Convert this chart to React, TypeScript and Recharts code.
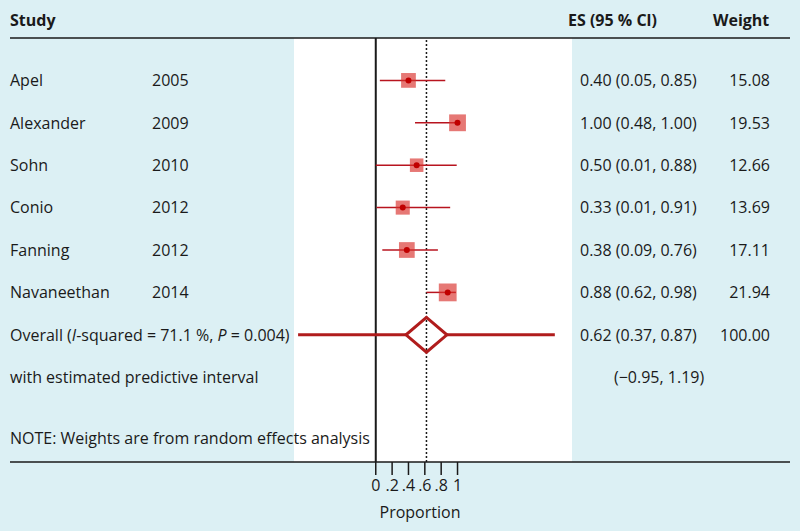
import React from 'react';
import {
  ComposedChart,
  XAxis,
  YAxis,
  Scatter,
  Line,
  ErrorBar,
  ReferenceLine,
  CartesianGrid,
} from 'recharts';

const FONT = '"Open Sans", sans-serif';
const INK = '#1a1a1a';
const BG = '#dcf0f4';
const CI_RED = '#b8141f';
const POOL_RED = '#b01c1c';

// study rows
const studies = ['Apel', 'Alexander', 'Sohn', 'Conio', 'Fanning', 'Navaneethan'];
const years = ['2005', '2009', '2010', '2012', '2012', '2014'];
const estimates = [0.4, 1.0, 0.5, 0.33, 0.38, 0.88];
const ciLower = [0.05, 0.48, 0.0, 0.01, 0.08, 0.62];
const ciUpper = [0.85, 1.0, 0.99, 0.91, 0.76, 0.98];
const esLabels = [
  '0.40 (0.05, 0.85)',
  '1.00 (0.48, 1.00)',
  '0.50 (0.01, 0.88)',
  '0.33 (0.01, 0.91)',
  '0.38 (0.09, 0.76)',
  '0.88 (0.62, 0.98)',
];
const weights = [15.08, 19.53, 12.66, 13.69, 17.11, 21.94];
const weightLabels = ['15.08', '19.53', '12.66', '13.69', '17.11', '21.94'];
const rows = [1, 2, 3, 4, 5, 6];

// pooled estimate
const overallRow = 7;
const overallEs = 0.62;
const overallCi = [0.37, 0.87];
const overallLabel = '0.62 (0.37, 0.87)';
const predictiveRow = 8;
const predictiveDrawn = [-0.95, 2.19];
const predictiveLabel = '(\u22120.95, 1.19)';
const noteRow = 9.45;

const xTicks = [0, 0.2, 0.4, 0.6, 0.8, 1];

const studyPoints = studies.map((name, i) => ({
  x: estimates[i],
  y: rows[i],
  err: [estimates[i] - ciLower[i], ciUpper[i] - estimates[i]],
  weight: weights[i],
}));

const leftSegment = [
  { x: predictiveDrawn[0], y: overallRow },
  { x: overallCi[0], y: overallRow },
];
const rightSegment = [
  { x: overallCi[1], y: overallRow },
  { x: predictiveDrawn[1], y: overallRow },
];
const halfH = 0.41;
const diamond = [
  { x: overallCi[0], y: overallRow },
  { x: overallEs, y: overallRow - halfH },
  { x: overallCi[1], y: overallRow },
  { x: overallEs, y: overallRow + halfH },
  { x: overallCi[0], y: overallRow },
  { x: overallEs, y: overallRow - halfH },
];

const labelRows = [
  ...rows.map((r, i) => ({ x: 0, y: r, kind: 'study', i })),
  { x: 0, y: overallRow, kind: 'overall', i: -1 },
  { x: 0, y: predictiveRow, kind: 'pred', i: -1 },
  { x: 0, y: noteRow, kind: 'note', i: -1 },
];

const txt = { fontFamily: FONT, fontSize: 16, fill: INK };

const StudySquare = (props: any) => {
  const { cx, cy, payload } = props;
  const side = 3.8 * Math.sqrt(payload.weight);
  return (
    <g>
      <rect
        x={cx - side / 2}
        y={cy - side / 2}
        width={side}
        height={side}
        fill="#d9302b"
        fillOpacity={0.65}
      />
      <circle cx={cx} cy={cy} r={3} fill="#c00000" />
    </g>
  );
};

const RowText = (props: any) => {
  const { cy, payload } = props;
  const { kind, i } = payload;
  if (kind === 'study') {
    return (
      <g>
        <text x={10} y={cy} dy="0.36em" {...txt}>{studies[i]}</text>
        <text x={152} y={cy} dy="0.36em" {...txt}>{years[i]}</text>
        <text x={580} y={cy} dy="0.36em" {...txt}>{esLabels[i]}</text>
        <text x={770} y={cy} dy="0.36em" textAnchor="end" {...txt}>{weightLabels[i]}</text>
      </g>
    );
  }
  if (kind === 'overall') {
    return (
      <g>
        <text x={10} y={cy} dy="0.36em" {...txt}>
          Overall (<tspan fontStyle="italic">I</tspan>-squared = 71.1 %,{' '}
          <tspan fontStyle="italic">P</tspan> = 0.004)
        </text>
        <text x={580} y={cy} dy="0.36em" {...txt}>{overallLabel}</text>
        <text x={770} y={cy} dy="0.36em" textAnchor="end" {...txt}>100.00</text>
      </g>
    );
  }
  if (kind === 'pred') {
    return (
      <g>
        <text x={10} y={cy} dy="0.36em" {...txt}>with estimated predictive interval</text>
        <text x={614} y={cy} dy="0.36em" {...txt}>{predictiveLabel}</text>
      </g>
    );
  }
  return (
    <text x={10} y={cy} dy="0.36em" {...txt}>
      NOTE: Weights are from random effects analysis
    </text>
  );
};

const fmtTick = (v: number) => (v === 0 ? '0' : v === 1 ? '1' : String(v).replace('0.', '.'));

export default function App() {
  return (
    <div
      style={{
        position: 'absolute',
        left: 0,
        top: 0,
        width: 800,
        height: 531,
        background: BG,
        fontFamily: FONT,
      }}
    >
      <ComposedChart
        width={800}
        height={531}
        margin={{ top: 38, right: 228, bottom: 9, left: 294 }}
      >
        <CartesianGrid fill="#ffffff" horizontal={false} vertical={false} />
        <XAxis
          type="number"
          dataKey="x"
          domain={[-1, 2.4]}
          ticks={xTicks}
          interval={0}
          tickFormatter={fmtTick}
          axisLine={false}
          tickLine={{ stroke: INK, strokeWidth: 1.5 }}
          tickSize={13}
          tickMargin={5}
          height={60}
          tick={{ fontFamily: FONT, fontSize: 16, fill: INK }}
          label={{
            value: 'Proportion',
            position: 'insideBottom',
            offset: 4,
            dx: -13,
            style: { fontFamily: FONT, fontSize: 16, fill: INK },
          }}
        />
        <YAxis type="number" dataKey="y" domain={[0, 10]} reversed hide />
        <ReferenceLine x={0} stroke={INK} strokeWidth={2} />
        <ReferenceLine x={overallEs} stroke={INK} strokeWidth={1.5} strokeDasharray="2 2" />
        <Scatter data={studyPoints} shape={StudySquare} isAnimationActive={false}>
          <ErrorBar dataKey="err" direction="x" width={0} stroke={CI_RED} strokeWidth={1.5} />
        </Scatter>
        <Line
          data={leftSegment}
          dataKey="y"
          stroke={POOL_RED}
          strokeWidth={3}
          dot={false}
          isAnimationActive={false}
        />
        <Line
          data={rightSegment}
          dataKey="y"
          stroke={POOL_RED}
          strokeWidth={3}
          dot={false}
          isAnimationActive={false}
        />
        <Line
          data={diamond}
          dataKey="y"
          stroke={POOL_RED}
          strokeWidth={3}
          strokeLinejoin="miter"
          dot={false}
          isAnimationActive={false}
        />
        <Scatter data={labelRows} shape={RowText} isAnimationActive={false} />
      </ComposedChart>
      <svg
        width={800}
        height={531}
        style={{ position: 'absolute', left: 0, top: 0, pointerEvents: 'none' }}
      >
        <text x={10} y={20} dy="0.36em" {...txt} fontWeight="bold">Study</text>
        <text x={568} y={20} dy="0.36em" {...txt} fontWeight="bold">ES (95 % Cl)</text>
        <text x={713} y={20} dy="0.36em" {...txt} fontWeight="bold">Weight</text>
        <line x1={10} x2={790} y1={38} y2={38} stroke={INK} strokeWidth={1.5} />
        <line x1={10} x2={790} y1={462} y2={462} stroke={INK} strokeWidth={1.5} />
      </svg>
    </div>
  );
}
